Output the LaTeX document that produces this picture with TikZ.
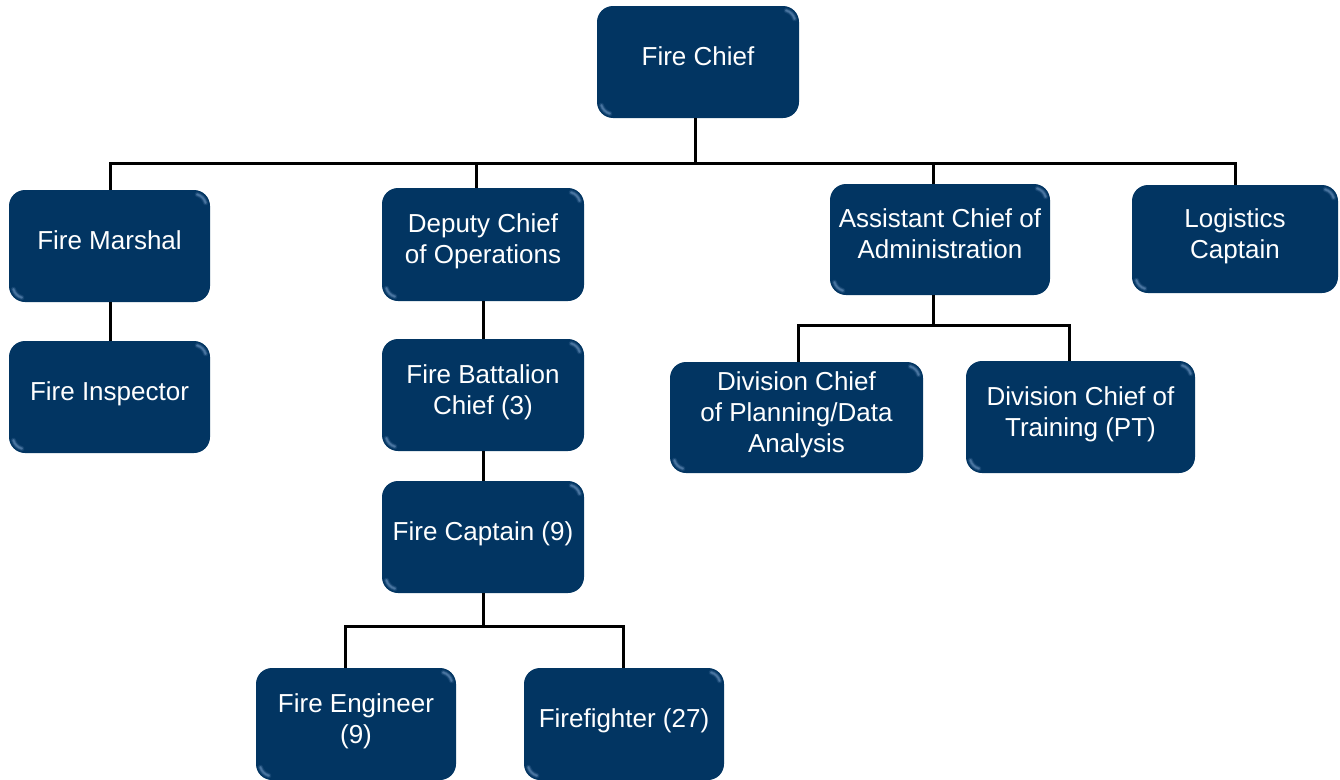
\documentclass[tikz,border=0pt]{standalone}
\usepackage{fontspec}
\setmainfont{Liberation Sans}
\usetikzlibrary{calc}

\definecolor{navy}{RGB}{2,53,98}
\definecolor{glint}{RGB}{120,158,200}

\tikzset{
  post/.style={
    fill=navy, rounded corners=16pt, text=white, align=center,
    font=\fontsize{26}{31}\selectfont, text depth=11pt, inner sep=0pt,
    path picture={
      % soft highlights on the top-right and bottom-left corners
      \foreach \w/\o in {5pt/0.15, 3pt/0.3, 1.5pt/0.35}{
        \draw[glint, line width=\w, opacity=\o, line cap=round]
          ($(path picture bounding box.north east)+(-16pt,-16pt)+(15:12pt)$)
          arc[start angle=15, end angle=75, radius=12pt];
        \draw[glint, line width=\w, opacity=\o, line cap=round]
          ($(path picture bounding box.south west)+(16pt,16pt)+(195:12pt)$)
          arc[start angle=195, end angle=255, radius=12pt];
      }
    }
  },
  link/.style={draw=black, line width=3pt}
}

\begin{document}
\begin{tikzpicture}[x=1pt, y=-1pt]
\useasboundingbox (0,0) rectangle (1340,779);

% positions
\node[post, minimum width=202pt, minimum height=112pt] (chief) at (698,62) {Fire Chief};

\node[post, minimum width=201pt, minimum height=112pt] (marshal) at (109.5,246) {Fire Marshal};
\node[post, minimum width=201pt, minimum height=112pt] (inspector) at (109.5,397) {Fire Inspector};

\node[post, minimum width=202pt, minimum height=113pt] (deputy) at (483,244.5) {Deputy Chief\\of Operations};
\node[post, minimum width=202pt, minimum height=112pt] (battalion) at (483,395) {Fire Battalion\\Chief (3)};
\node[post, minimum width=202pt, minimum height=112pt] (captain) at (483,537) {Fire Captain (9)};
\node[post, minimum width=200pt, minimum height=112pt] (engineer) at (356,724) {Fire Engineer\\(9)};
\node[post, minimum width=200pt, minimum height=112pt] (firefighter) at (624,724) {Firefighter (27)};

\node[post, minimum width=220pt, minimum height=111pt] (assistant) at (940,239.5) {Assistant Chief of\\Administration};
\node[post, minimum width=206pt, minimum height=108pt] (logistics) at (1235,239) {Logistics\\Captain};
\node[post, minimum width=253pt, minimum height=111pt] (planning) at (796.5,417.5) {Division Chief\\of Planning/Data\\Analysis};
\node[post, minimum width=229pt, minimum height=112pt] (training) at (1080.5,417) {Division Chief of\\Training (PT)};

% reporting lines
\coordinate (bus) at (0,163.5);
\coordinate (adminbus) at (0,325);
\coordinate (crewbus) at (0,626);

\draw[link] ([xshift=-3pt]chief.south) -- ([xshift=-3pt]chief.south |- bus);
\draw[link] ([xshift=0.5pt]marshal.north) |- (logistics.north |- bus) -- (logistics.north);
\draw[link] ([xshift=-7pt]deputy.north) -- ([xshift=-7pt]deputy.north |- bus);
\draw[link] ([xshift=-7pt]assistant.north) -- ([xshift=-7pt]assistant.north |- bus);

\draw[link] ([xshift=0.5pt]marshal.south) -- ([xshift=0.5pt]inspector.north);
\draw[link] (deputy.south) -- (battalion.north);
\draw[link] (battalion.south) -- (captain.north);

\draw[link] (captain.south) -- (captain.south |- crewbus);
\draw[link] ([xshift=-11pt]engineer.north) |- ([xshift=-1pt]firefighter.north |- crewbus) -- ([xshift=-1pt]firefighter.north);

\draw[link] ([xshift=-7pt]assistant.south) -- ([xshift=-7pt]assistant.south |- adminbus);
\draw[link] ([xshift=2pt]planning.north) |- ([xshift=-11pt]training.north |- adminbus) -- ([xshift=-11pt]training.north);
\end{tikzpicture}
\end{document}
